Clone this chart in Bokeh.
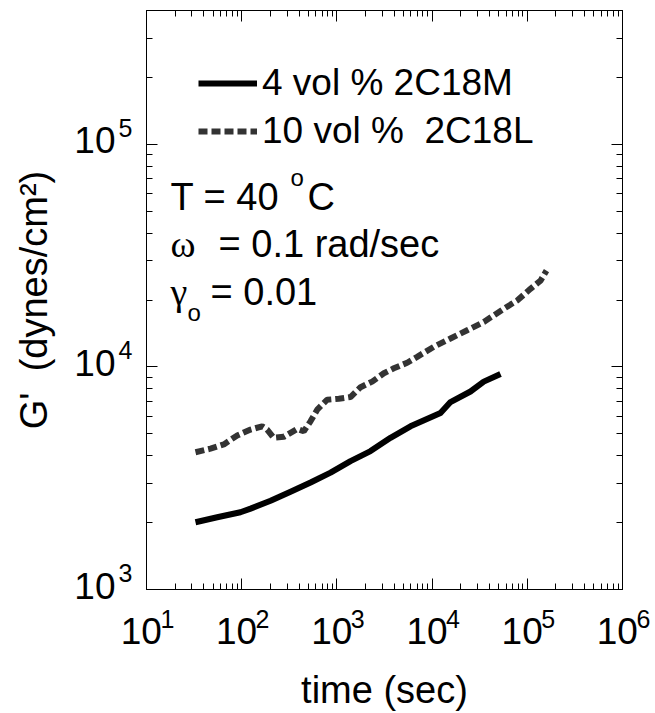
import math
from bokeh.plotting import figure
from bokeh.models import (Label, Legend, LegendItem, LogAxis, FixedTicker,
                          CustomJSTickFormatter, Range1d, LogScale)
from bokeh.embed import file_html
from bokeh.resources import INLINE

# ---- data ----
time_m = [32.7, 55.3, 97, 124, 201, 326, 529, 858, 1390, 2255, 3656, 5929,
          12250, 15600, 25300, 34900, 52300]
gp_m = [2006, 2113, 2224, 2310, 2505, 2750, 3027, 3352, 3777, 4188, 4806, 5411,
        6209, 6954, 7760, 8596, 9308]

time_l = [32.7, 47, 64.9, 89.7, 124, 164, 185, 217, 277, 383, 449, 528, 621,
          791, 1047, 1390, 1771, 2349, 3111, 3963, 5474, 6970, 10420, 15600,
          23370, 34930, 56600, 78300, 108000, 137700, 159000]
gp_l = [4140, 4295, 4489, 4921, 5233, 5411, 5233, 4806, 4856, 5270, 5140, 5700,
        6430, 7127, 7197, 7325, 8115, 8596, 9370, 9865, 10450, 11110, 12320,
        13430, 14630, 15930, 18270, 19900, 22450, 24430, 27100]

legend_labels = ["4 vol % 2C18M", "10 vol %\u00a0 2C18L"]
x_exponents = [1, 2, 3, 4, 5, 6]
y_exponents = [3, 4, 5]
x_title = "time (sec)"
y_title = "G'\u00a0 (dynes/cm\u00b2)"
notes = ["T = 40 ", "o", "C", "\u03c9", "= 0.1 rad/sec", "\u03b3", "o", "= 0.01"]

FONT = "Liberation Sans"
SERIF = "Liberation Serif"
NB = "\u00a0"

X0, X1 = 10, 1e6
Y0, Y1 = 1e3, 4e5
FRAME_H = 713 - 10 - 122
Y_PPD = FRAME_H / (math.log10(Y1) - math.log10(Y0))


def shifted(lo, hi, px):
    f = 10 ** (-px / Y_PPD)
    return Range1d(lo * f, hi * f)


p = figure(width=655, height=713, x_axis_type="log", y_axis_type="log",
           x_range=Range1d(X0, X1), y_range=Range1d(Y0, Y1),
           output_backend="svg", toolbar_location=None,
           min_border_left=146, min_border_right=33, min_border_top=10,
           min_border_bottom=122)
p.background_fill_color = "white"
p.border_fill_color = "white"
p.outline_line_color = "black"
p.outline_line_width = 1
p.xgrid.grid_line_color = None
p.ygrid.grid_line_color = None

p.extra_y_ranges = {"ysup": shifted(Y0, Y1, 17), "yten": shifted(Y0, Y1, 4)}
p.extra_y_scales = {"ysup": LogScale(), "yten": LogScale()}

x_major = [10 ** k for k in x_exponents]
x_minor = [m * 10 ** k for k in x_exponents[:-1] for m in range(2, 10)]
y_major = [10 ** k for k in y_exponents]
y_minor = [m * 10 ** k for k in y_exponents[:-1] for m in range(2, 10)] + [2e5, 3e5, 4e5]


def tick_axis(ax, major, minor):
    ax.ticker = FixedTicker(ticks=major, minor_ticks=minor)
    ax.formatter = CustomJSTickFormatter(code="return ''")
    ax.major_label_text_font_size = "0px"
    ax.major_label_standoff = 0
    ax.major_tick_in = 11
    ax.major_tick_out = 0
    ax.minor_tick_in = 6
    ax.minor_tick_out = 0
    ax.axis_line_color = "black"
    ax.major_tick_line_color = "black"
    ax.minor_tick_line_color = "black"
    ax.axis_line_width = 1


def label_axis(ax, major, labels, size, standoff):
    ax.ticker = FixedTicker(ticks=major, minor_ticks=[])
    ax.major_label_overrides = labels
    ax.major_label_text_font = FONT
    ax.major_label_text_font_size = size
    ax.major_label_text_color = "black"
    ax.major_label_standoff = standoff
    ax.axis_line_color = None
    ax.major_tick_line_color = None
    ax.minor_tick_line_color = None
    ax.major_tick_in = 0
    ax.major_tick_out = 0
    ax.minor_tick_in = 0
    ax.minor_tick_out = 0


xa = p.xaxis[0]
ya = p.yaxis[0]
tick_axis(xa, x_major, x_minor)
tick_axis(ya, y_major, y_minor)

ax_top = LogAxis()
tick_axis(ax_top, x_major, x_minor)
p.add_layout(ax_top, "above")
ax_right = LogAxis()
tick_axis(ax_right, y_major, y_minor)
p.add_layout(ax_right, "right")

# bottom: exponent row, then "10" row with the title
x_sup = LogAxis()
label_axis(x_sup, x_major, {float(10 ** k): NB * 6 + str(k) for k in x_exponents},
           "25px", 15)
p.add_layout(x_sup, "below")
x_ten = LogAxis()
label_axis(x_ten, x_major, {float(10 ** k): "10" + NB for k in x_exponents},
           "37px", -25)
x_ten.axis_label = x_title
x_ten.axis_label_text_font = FONT
x_ten.axis_label_text_font_size = "38px"
x_ten.axis_label_text_font_style = "normal"
x_ten.axis_label_text_color = "black"
x_ten.axis_label_standoff = 14
p.add_layout(x_ten, "below")

# left: exponent column, then "10" column with the title
y_sup = LogAxis(y_range_name="ysup")
label_axis(y_sup, y_major, {float(10 ** k): str(k) for k in y_exponents},
           "25px", 14)
p.add_layout(y_sup, "left")
y_ten = LogAxis(y_range_name="yten")
label_axis(y_ten, y_major, {float(10 ** k): "10" for k in y_exponents},
           "37px", 0)
y_ten.axis_label = y_title
y_ten.axis_label_text_font = FONT
y_ten.axis_label_text_font_size = "38px"
y_ten.axis_label_text_font_style = "normal"
y_ten.axis_label_text_color = "black"
y_ten.axis_label_standoff = 16
p.add_layout(y_ten, "left")

r1 = p.line(time_m, gp_m, line_color="black", line_width=6, line_join="round")
r2 = p.line(time_l, gp_l, line_color="#333333", line_width=6, line_dash="9 4")

legend = Legend(items=[LegendItem(label=legend_labels[0], renderers=[r1]),
                       LegendItem(label=legend_labels[1], renderers=[r2])],
                location=(52, 435), orientation="vertical",
                glyph_width=59, glyph_height=46, label_height=46,
                label_standoff=5, spacing=2, padding=0, margin=0,
                border_line_alpha=0, background_fill_alpha=0,
                label_text_font=FONT, label_text_font_size="37px",
                label_text_color="black")
p.add_layout(legend)


def lab(**kw):
    d = dict(text_font=FONT, text_color="black", text_baseline="alphabetic",
             x_units="screen", y_units="screen", text_align="left")
    d.update(kw)
    p.add_layout(Label(**d))


# annotation block
lab(x=24, y=393, text=notes[0], text_font_size="38px")
lab(x=144, y=412, text=notes[1], text_font_size="24px")
lab(x=161, y=393, text=notes[2], text_font_size="38px")
lab(x=24, y=346, text=notes[3], text_font=SERIF, text_font_size="38px")
lab(x=72, y=346, text=notes[4], text_font_size="38px")
lab(x=24, y=298, text=notes[5], text_font=SERIF, text_font_size="38px")
lab(x=41, y=277, text=notes[6], text_font_size="24px")
lab(x=64, y=298, text=notes[7], text_font_size="38px")

open("out.html", "w").write(file_html(p, INLINE))
